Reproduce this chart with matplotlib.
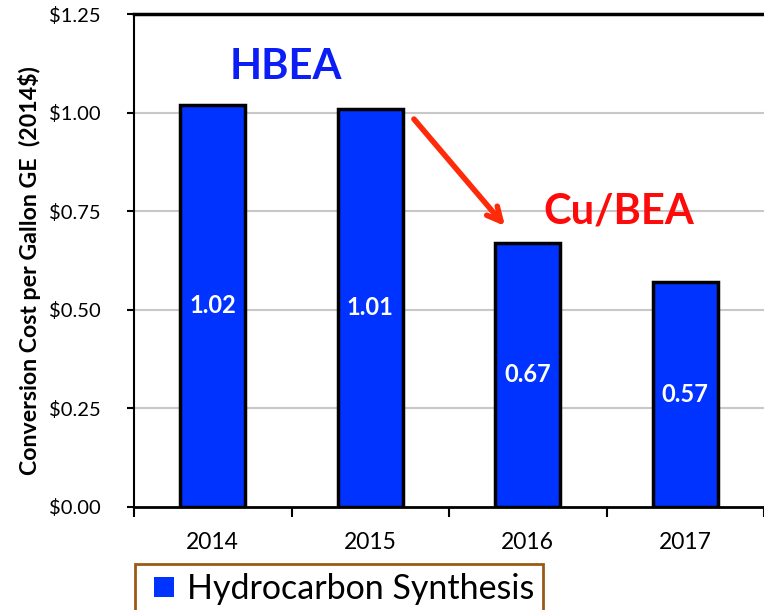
import numpy as np
import matplotlib
matplotlib.use("Agg")
import matplotlib.pyplot as plt
from matplotlib.patches import Patch, Rectangle
from matplotlib.legend_handler import HandlerPatch

plt.rcParams['font.family'] = ['Lato', 'DejaVu Sans']

years = ["2014", "2015", "2016", "2017"]
cost = [1.02, 1.01, 0.67, 0.57]
cost_labels = ["1.02", "1.01", "0.67", "0.57"]
y_ticks = [0.0, 0.25, 0.50, 0.75, 1.00, 1.25]
y_tick_labels = ["$0.00", "$0.25", "$0.50", "$0.75", "$1.00", "$1.25"]

BAR_COLOR = "#0033FF"


def small_square(legend, orig_handle, xdescent, ydescent, width, height, fontsize):
    # square a bit right of the legend border, like the original
    side = 14.5
    return Rectangle((-xdescent + width - side, -ydescent + (height - side) / 2),
                     side, side)


fig = plt.figure(figsize=(7.64, 6.10), dpi=100)
ax = fig.add_axes([134 / 764, 1 - 507 / 610, 1 - 134 / 764, (507 - 14) / 610])

x = np.arange(len(years))
ax.bar(x, cost, width=0.41, color=BAR_COLOR, edgecolor="black", linewidth=2.5, zorder=3)

for xi, v, lab in zip(x, cost, cost_labels):
    ax.text(xi, v / 2, lab, ha="center", va="center", color="white",
            fontsize=17, fontweight="bold", zorder=4)

ax.set_xlim(-0.5, 3.5)
ax.set_ylim(0, 1.25)

ax.set_yticks(y_ticks)
ax.set_yticklabels(y_tick_labels, fontsize=14.5)
ax.set_xticks(x)
ax.set_xticklabels(years, fontsize=16.5)
ax.set_xticks(np.arange(-0.5, 3.6, 1.0), minor=True)
ax.tick_params(axis="x", which="major", length=0, pad=18)
ax.tick_params(axis="x", which="minor", length=7, width=1.5, direction="out")
ax.tick_params(axis="y", length=5, width=1.5, direction="out", pad=19)

for yv in y_ticks[1:-1]:
    ax.axhline(yv, color="#c8c8c8", linewidth=1.5, zorder=1)

ax.spines["right"].set_visible(False)
ax.spines["top"].set_linewidth(2.5)
ax.spines["left"].set_linewidth(1.5)
ax.spines["bottom"].set_linewidth(2)

ax.set_ylabel("Conversion Cost per Gallon GE  (2014$)", fontsize=16.7,
              fontweight="bold")
ax.yaxis.set_label_coords(-0.148, 0.479)

ax.text(0.462, 1.116, "HBEA", color="#0A1EF5", fontsize=30, fontweight="bold",
        ha="center", va="center")
ax.text(2.576, 0.748, "Cu/BEA", color="#FF0A0A", fontsize=30, fontweight="bold",
        ha="center", va="center")
ax.annotate("", xy=(1.867, 0.707), xytext=(1.266, 0.989),
            arrowprops=dict(arrowstyle="->,head_length=1.0,head_width=0.5",
                            color="#FF2A0A", linewidth=4))

handle = Patch(facecolor=BAR_COLOR, edgecolor="none")
fig.legend([handle], ["Hydrocarbon Synthesis"], loc="upper left",
           bbox_to_anchor=(135 / 764, 1 - 564 / 610), fontsize=24.5,
           frameon=True, fancybox=False, edgecolor="#9C5B14", framealpha=1,
           handlelength=0.9, handleheight=0.7, handletextpad=0.38,
           borderpad=0.25, borderaxespad=0,
           handler_map={Patch: HandlerPatch(patch_func=small_square)})
fig.legends[0].get_frame().set_linewidth(2)

fig.savefig("out.png", dpi=100)
